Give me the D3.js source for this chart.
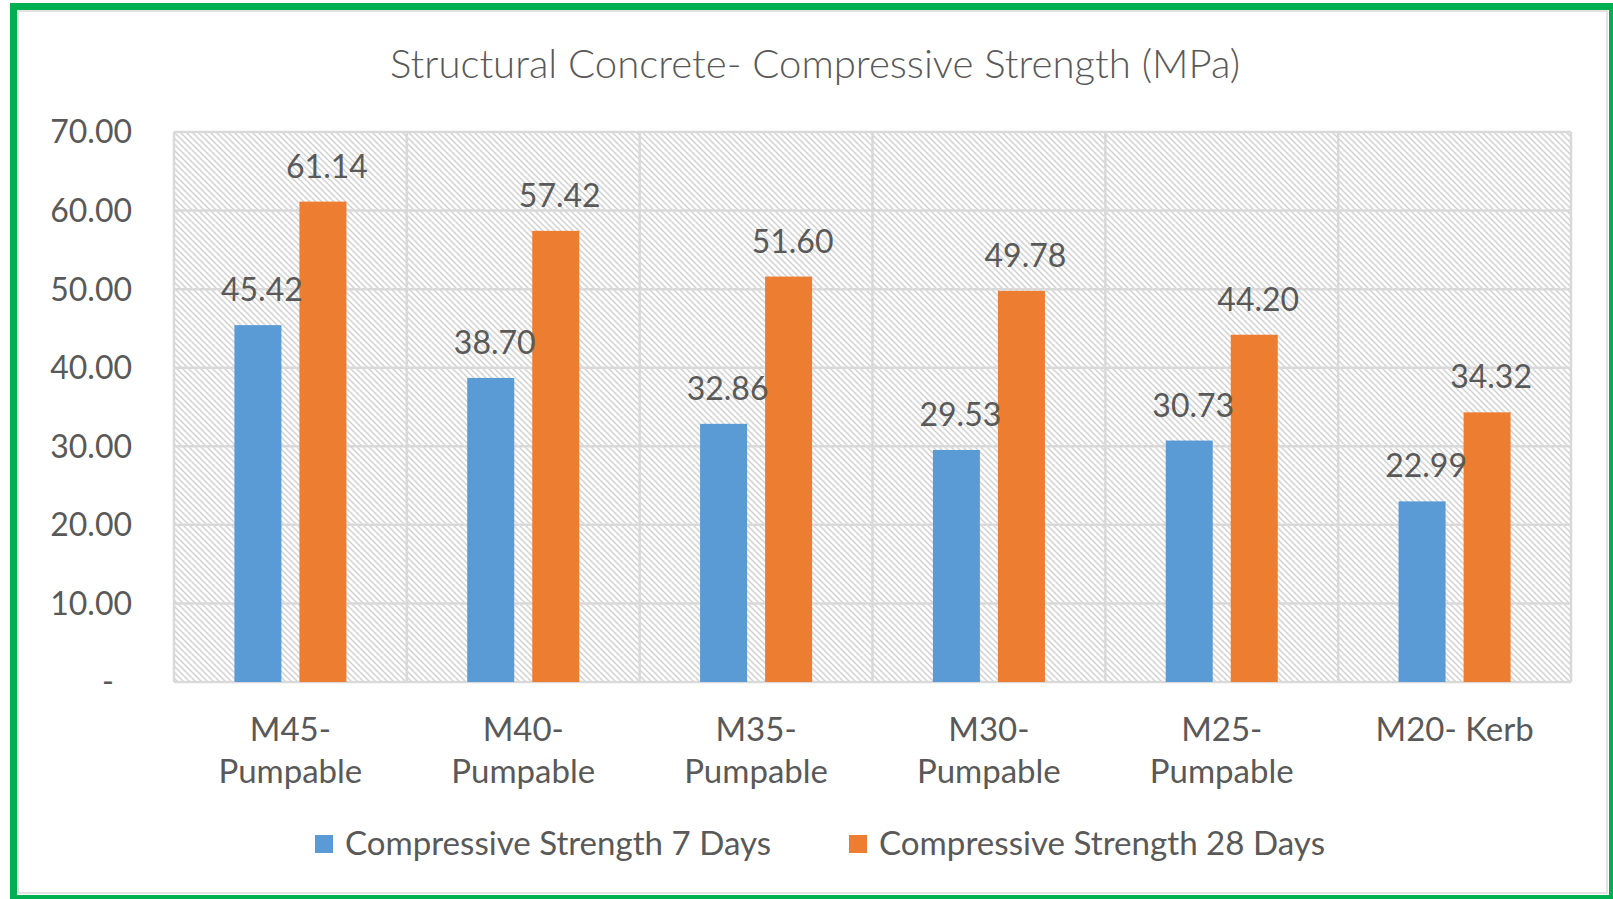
<!DOCTYPE html>
<html>
<head>
<meta charset="utf-8">
<script src="https://cdn.jsdelivr.net/npm/d3@7"></script>
<style>
  html, body { margin: 0; padding: 0; background: #ffffff; }
  svg { display: block; }
  text { font-family: Lato, "Open Sans", sans-serif; fill: #595959; }
</style>
</head>
<body>
<svg id="chart" width="1613" height="899"></svg>
<script>
const categories = [
  ["M45-", "Pumpable"],
  ["M40-", "Pumpable"],
  ["M35-", "Pumpable"],
  ["M30-", "Pumpable"],
  ["M25-", "Pumpable"],
  ["M20- Kerb"]
];
const seriesNames = ["Compressive Strength 7 Days", "Compressive Strength 28 Days"];
const days7 = [45.42, 38.70, 32.86, 29.53, 30.73, 22.99];
const days28 = [61.14, 57.42, 51.60, 49.78, 44.20, 34.32];
const yTicks = [0, 10, 20, 30, 40, 50, 60, 70];
const title = "Structural Concrete- Compressive Strength (MPa)";
const colors = ["#5b9bd5", "#ed7d31"];

const svg = d3.select("#chart");
const W = 1613, H = 899;

// outer green frame and chart area border
svg.append("rect").attr("x", 0).attr("y", 0).attr("width", W).attr("height", H).attr("fill", "#fff");
svg.append("rect")
  .attr("x", 13.5).attr("y", 6.5).attr("width", 1599).attr("height", 892)
  .attr("fill", "none").attr("stroke", "#00b050").attr("stroke-width", 7);
svg.append("rect")
  .attr("x", 18).attr("y", 11).attr("width", 1589).attr("height", 882)
  .attr("fill", "none").attr("stroke", "#d9d9d9").attr("stroke-width", 1.5);

// hatch pattern
const defs = svg.append("defs");
const pat = defs.append("pattern").attr("id", "hatch")
  .attr("patternUnits", "userSpaceOnUse").attr("width", 6).attr("height", 6);
pat.append("rect").attr("width", 6).attr("height", 6).attr("fill", "#ffffff");
pat.append("path").attr("d", "M-1,-1 L7,7 M-1,5 L1,7 M5,-1 L7,1")
  .attr("stroke", "#d2d2d2").attr("stroke-width", 1.5).attr("fill", "none");

const plot = { left: 174, right: 1571, top: 132, bottom: 682 };

const x0 = d3.scaleBand().domain(d3.range(categories.length))
  .range([plot.left, plot.right]).paddingInner(0).paddingOuter(0);
const x1 = d3.scaleBand().domain([0, 1]).range([0, x0.bandwidth()])
  .paddingInner(0.277).paddingOuter(0.929);
const y = d3.scaleLinear().domain([0, 70]).range([plot.bottom, plot.top]);

// plot area background
svg.append("rect")
  .attr("x", plot.left).attr("y", plot.top)
  .attr("width", plot.right - plot.left).attr("height", plot.bottom - plot.top)
  .attr("fill", "url(#hatch)");

// gridlines
const grid = svg.append("g").attr("stroke", "#d9d9d9").attr("stroke-width", 2.5);
grid.selectAll("line.h").data(yTicks).join("line").attr("class", "h")
  .attr("x1", plot.left).attr("x2", plot.right)
  .attr("y1", d => y(d)).attr("y2", d => y(d));
grid.selectAll("line.v").data(d3.range(categories.length + 1)).join("line").attr("class", "v")
  .attr("x1", d => d < categories.length ? x0(d) : plot.right)
  .attr("x2", d => d < categories.length ? x0(d) : plot.right)
  .attr("y1", plot.top).attr("y2", plot.bottom);

// y axis labels
const fmt = d3.format(".2f");
const yAxis = d3.axisLeft(y).tickValues(yTicks).tickSize(0).tickPadding(0)
  .tickFormat(d => d === 0 ? "-" : fmt(d));
const yg = svg.append("g").attr("transform", `translate(132,0)`).call(yAxis);
yg.select(".domain").remove();
yg.selectAll("text")
  .attr("font-family", "Lato, 'Open Sans', sans-serif")
  .attr("font-size", 32).attr("fill", "#595959")
  .attr("dy", "0.34em")
  .attr("dx", d => d === 0 ? -18 : 0);

// bars
const seriesData = [days7, days28];
seriesData.forEach((vals, s) => {
  svg.append("g").selectAll("rect").data(vals).join("rect")
    .attr("x", (d, i) => x0(i) + x1(s))
    .attr("width", x1.bandwidth())
    .attr("y", d => y(d))
    .attr("height", d => y(0) - y(d))
    .attr("fill", colors[s]);
});

// data labels
seriesData.forEach((vals, s) => {
  svg.append("g").selectAll("text").data(vals).join("text")
    .attr("x", (d, i) => x0(i) + x1(s) + x1.bandwidth() / 2 + 4)
    .attr("y", d => y(d) - 24)
    .attr("text-anchor", "middle")
    .attr("font-size", 32)
    .text(d => fmt(d));
});

// x axis labels
const xg = svg.append("g");
categories.forEach((lines, i) => {
  const t = xg.append("text")
    .attr("x", x0(i) + x0.bandwidth() / 2)
    .attr("y", 741)
    .attr("text-anchor", "middle")
    .attr("font-size", 33);
  lines.forEach((ln, j) => {
    t.append("tspan").attr("x", x0(i) + x0.bandwidth() / 2)
      .attr("dy", j === 0 ? 0 : 42).text(ln);
  });
});

// title
svg.append("text")
  .attr("x", 815).attr("y", 78)
  .attr("text-anchor", "middle")
  .attr("font-size", 40)
  .attr("font-weight", 300)
  .attr("textLength", 850)
  .attr("lengthAdjust", "spacingAndGlyphs")
  .text(title);

// legend
const legendX = [315, 849];
const legendW = [426, 446];
seriesNames.forEach((name, s) => {
  const g = svg.append("g");
  g.append("rect").attr("x", legendX[s]).attr("y", 835)
    .attr("width", 18).attr("height", 18).attr("fill", colors[s]);
  g.append("text").attr("x", legendX[s] + 30).attr("y", 855)
    .attr("font-size", 32)
    .attr("textLength", legendW[s]).attr("lengthAdjust", "spacingAndGlyphs")
    .text(name);
});
</script>
</body>
</html>
